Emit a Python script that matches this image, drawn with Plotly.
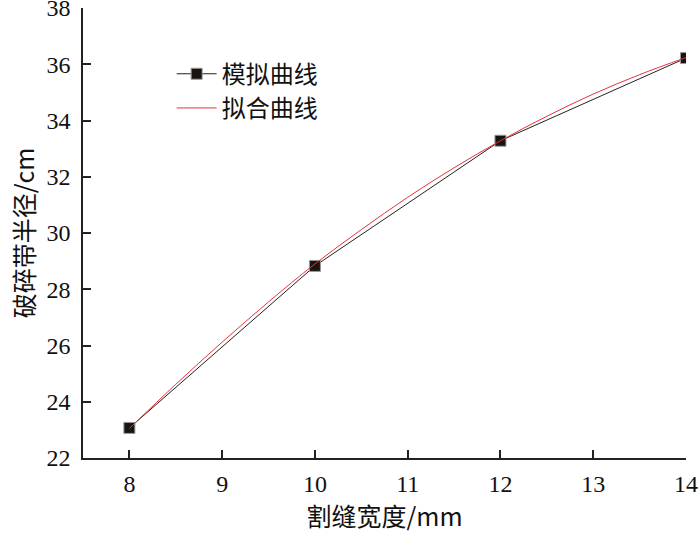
import plotly.graph_objects as go

sim_x = [8, 10, 12, 14]
sim_y = [23.07, 28.83, 33.28, 36.22]

fit_x = [8, 8.5, 9, 9.5, 10, 10.5, 11, 11.5, 12, 12.5, 13, 13.5, 14]
fit_y = [23.05, 24.62, 26.12, 27.55, 28.9, 30.12, 31.27, 32.32, 33.28, 34.15, 34.94, 35.63, 36.24]

x_ticks = [8, 9, 10, 11, 12, 13, 14]
y_ticks = [22, 24, 26, 28, 30, 32, 34, 36, 38]

serif = '"Liberation Serif", "Times New Roman", Times, serif'
cjk = '"Noto Sans CJK SC", sans-serif'

fig = go.Figure()
fig.add_trace(go.Scatter(
    x=sim_x, y=sim_y, mode="lines+markers", name="模拟曲线",
    line=dict(color="#222222", width=1),
    marker=dict(symbol="square", size=11, color="#1a1410",
                line=dict(color="#999999", width=1)),
))
fig.add_trace(go.Scatter(
    x=fit_x, y=fit_y, mode="lines", name="拟合曲线",
    line=dict(color="#e8323c", width=1, shape="spline"),
))

fig.update_layout(
    width=700, height=534,
    margin=dict(l=83, r=14, t=8, b=76, autoexpand=False),
    paper_bgcolor="white", plot_bgcolor="white",
    font=dict(family=serif, size=24, color="#111111"),
    legend=dict(x=0.147, y=0.903, xanchor="left", yanchor="top",
                bgcolor="rgba(0,0,0,0)", font=dict(family=cjk, size=24, color="#111111"),
                tracegroupgap=0, itemwidth=40),
    showlegend=True,
)
fig.update_xaxes(
    range=[7.5, 14], tickvals=x_ticks, ticktext=[str(v) for v in x_ticks],
    showline=True, linecolor="#222222", linewidth=1.5,
    ticks="inside", ticklen=8, tickwidth=1.5, tickcolor="#222222",
    showgrid=False, zeroline=False, automargin=False, ticklabeloverflow="allow",
    ticklabelstandoff=3,
    tickfont=dict(family=serif, size=24),
    title=dict(text="割缝宽度/mm", font=dict(family=cjk, size=25), standoff=11),
)
fig.update_yaxes(
    range=[22, 38], tickvals=y_ticks, ticktext=[str(v) for v in y_ticks],
    showline=True, linecolor="#222222", linewidth=1.5,
    ticks="inside", ticklen=8, tickwidth=1.5, tickcolor="#222222",
    showgrid=False, zeroline=False, automargin=False, ticklabeloverflow="allow",
    ticklabelstandoff=6,
    tickfont=dict(family=serif, size=24),
    title=dict(text="破碎带半径/cm", font=dict(family=cjk, size=25), standoff=5),
)

fig.write_html("out.html", config={"displayModeBar": False},
               post_script="document.body.style.margin='0';")
